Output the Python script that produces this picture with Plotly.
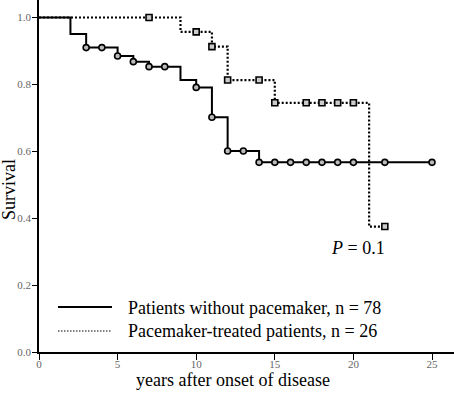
import plotly.graph_objects as go

# Kaplan-Meier step data
no_pm_times = [0, 2, 3, 5, 6, 7, 9, 10, 11, 12, 14, 25]
no_pm_surv = [1.0, 0.951, 0.910, 0.885, 0.868, 0.853, 0.813, 0.791, 0.702, 0.601, 0.567, 0.567]
no_pm_censor = [3, 4, 5, 6, 7, 8, 10, 11, 12, 13, 14, 15, 16, 17, 18, 19, 20, 22, 25]

pm_times = [0, 9, 11, 12, 15, 21, 22]
pm_surv = [1.0, 0.957, 0.913, 0.813, 0.745, 0.375, 0.375]
pm_censor = [7, 10, 11, 12, 14, 15, 17, 18, 19, 20, 22]

x_ticks = [0, 5, 10, 15, 20, 25]
y_ticks = [0.0, 0.2, 0.4, 0.6, 0.8, 1.0]

legend_labels = ["Patients without pacemaker, n = 78", "Pacemaker-treated patients, n = 26"]


def surv_at(times, surv, t):
    val = surv[0]
    for ti, si in zip(times, surv):
        if ti <= t:
            val = si
    return val


fig = go.Figure()

fig.add_trace(go.Scatter(
    x=no_pm_times, y=no_pm_surv, mode="lines", line_shape="hv",
    line=dict(color="black", width=2), showlegend=False))
fig.add_trace(go.Scatter(
    x=pm_times, y=pm_surv, mode="lines", line_shape="hv",
    line=dict(color="black", width=2.2, dash="2px,2px"), showlegend=False))

fig.add_trace(go.Scatter(
    x=no_pm_censor, y=[surv_at(no_pm_times, no_pm_surv, t) for t in no_pm_censor],
    mode="markers", marker=dict(symbol="circle", size=6, color="#bbbbbb",
                                line=dict(color="black", width=1.6)),
    showlegend=False, cliponaxis=False))
fig.add_trace(go.Scatter(
    x=pm_censor, y=[surv_at(pm_times, pm_surv, t) for t in pm_censor],
    mode="markers", marker=dict(symbol="square", size=6, color="#cccccc",
                                line=dict(color="black", width=1.6)),
    showlegend=False, cliponaxis=False))

L, B = 39, 42
PW, PH = 454 - L, 394 - B


def px(xp):
    return (xp - L) / PW


def py(yp):
    return (PH - yp) / PH


serif = "Liberation Serif, Times New Roman, serif"

# legend drawn manually
fig.add_shape(type="line", xref="paper", yref="paper", x0=px(58), x1=px(112),
              y0=py(307), y1=py(307), line=dict(color="black", width=2))
fig.add_shape(type="line", xref="paper", yref="paper", x0=px(58), x1=px(112),
              y0=py(331), y1=py(331), line=dict(color="black", width=1.2, dash="1.5px,1.5px"))

annotations = [
    dict(text=legend_labels[0], x=px(126), y=py(308), xanchor="left", yanchor="middle"),
    dict(text=legend_labels[1], x=px(126), y=py(331), xanchor="left", yanchor="middle"),
    dict(text="<i>P</i> = 0.1", x=px(329), y=py(248), xanchor="left", yanchor="middle"),
    dict(text="years after onset of disease", x=px(233), y=py(380), xanchor="center", yanchor="middle"),
    dict(text="Survival", x=px(9), y=py(190), xanchor="center", yanchor="middle", textangle=-90),
]
for a in annotations:
    a.update(xref="paper", yref="paper", showarrow=False,
             font=dict(family=serif, size=18, color="black"))
    fig.add_annotation(**a)

fig.update_xaxes(range=[0, PW / 15.72], tickvals=x_ticks, ticktext=[str(v) for v in x_ticks],
                 showline=True, linecolor="black", linewidth=1.5, ticks="outside",
                 ticklen=6, tickwidth=1, tickcolor="black", showgrid=False, zeroline=False,
                 ticklabelstandoff=-5,
                 tickfont=dict(family=serif, size=11, color="#666666"))
fig.update_yaxes(range=[0, PH / 334.5], tickvals=y_ticks, ticktext=[f"{v:.1f}" for v in y_ticks],
                 showline=True, linecolor="black", linewidth=1.5, ticks="outside",
                 ticklen=5, tickwidth=1, tickcolor="black", showgrid=False, zeroline=False,
                 ticklabelstandoff=-1,
                 tickfont=dict(family=serif, size=11, color="#666666"))

fig.update_layout(width=454, height=394, margin=dict(l=L, r=0, t=0, b=B),
                  plot_bgcolor="white", paper_bgcolor="white")

fig.write_html("out.html", config={"displayModeBar": False},
               post_script="document.body.style.margin='0';document.body.style.overflow='hidden';")
